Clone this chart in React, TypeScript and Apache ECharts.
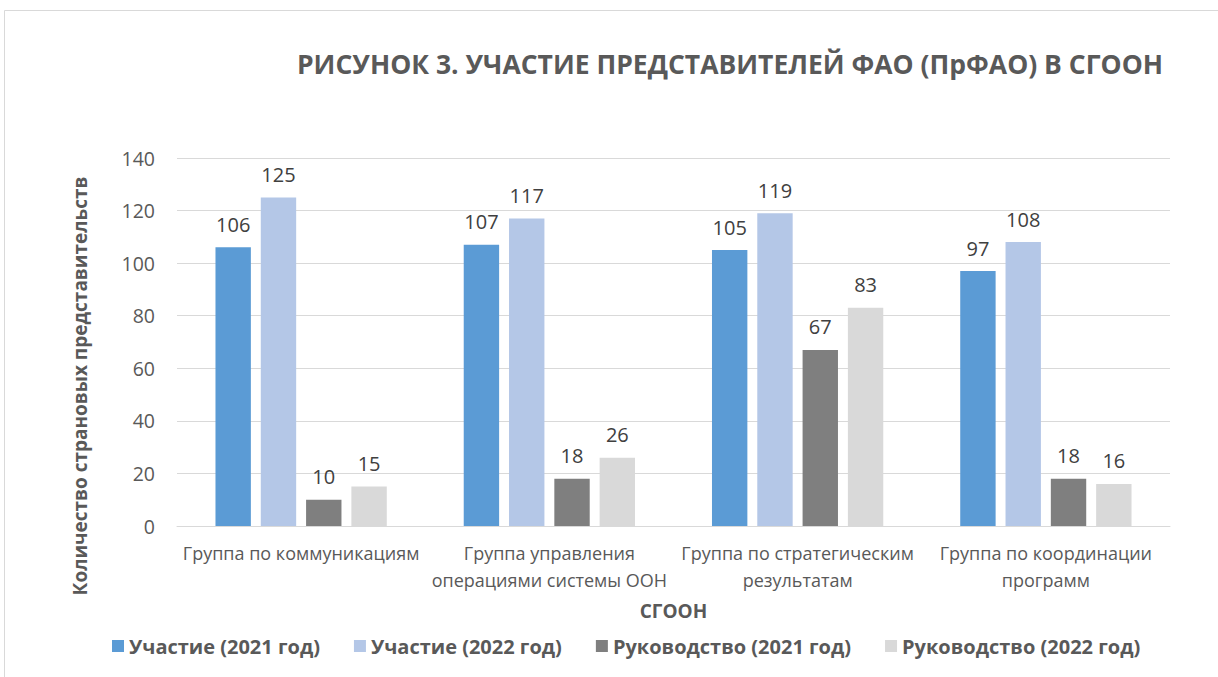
import React, { useEffect, useRef } from "react";
import * as echarts from "echarts";

const categories = [
  "Группа по коммуникациям",
  "Группа управления\nоперациями системы ООН",
  "Группа по стратегическим\nрезультатам",
  "Группа по координации\nпрограмм",
];
const seriesNames = [
  "Участие (2021 год)",
  "Участие (2022 год)",
  "Руководство (2021 год)",
  "Руководство (2022 год)",
];
const participation2021 = [106, 107, 105, 97];
const participation2022 = [125, 117, 119, 108];
const leadership2021 = [10, 18, 67, 18];
const leadership2022 = [15, 26, 83, 16];
const colors = ["#5B9BD5", "#B4C7E7", "#7F7F7F", "#D9D9D9"];
const yTicks = { min: 0, max: 140, interval: 20 };
const yAxisTitle = "Количество страновых представительств";

const FONT = "'Open Sans', 'Noto Sans', sans-serif";

export default function App() {
  const ref = useRef<HTMLDivElement>(null);
  useEffect(() => {
    document.body.style.margin = "0";
    const chart = echarts.init(ref.current!, undefined, { renderer: "svg" });
    const values = [participation2021, participation2022, leadership2021, leadership2022];
    chart.setOption({
      animation: false,
      backgroundColor: "#ffffff",
      textStyle: { fontFamily: FONT },
      title: {
        text: "РИСУНОК 3. УЧАСТИЕ ПРЕДСТАВИТЕЛЕЙ ФАО (ПрФАО) В СГООН",
        right: 50,
        top: 45,
        textStyle: { fontFamily: FONT, fontSize: 26.5, fontWeight: "bold", color: "#595959" },
      },
      graphic: [
        {
          type: "rect",
          shape: { x: 4.5, y: 10.5, width: 1400, height: 800 },
          style: { fill: "none", stroke: "#D9D9D9", lineWidth: 1 },
          silent: true,
        },
        {
          type: "text",
          x: 80,
          y: 386,
          rotation: Math.PI / 2,
          silent: true,
          style: {
            text: yAxisTitle,
            fontFamily: FONT,
            fontSize: 19,
            fontWeight: "bold",
            fill: "#595959",
            align: "center",
            verticalAlign: "middle",
          },
        },
      ],
      legend: {
        bottom: 16,
        left: 107,
        itemWidth: 12,
        itemHeight: 12,
        itemGap: 34,
        icon: "rect",
        textStyle: { fontFamily: FONT, fontSize: 20, fontWeight: "bold", color: "#595959" },
        data: seriesNames,
      },
      grid: { left: 177, right: 48, top: 158, bottom: 151, containLabel: false },
      xAxis: {
        type: "category",
        data: categories,
        name: "СГООН",
        nameLocation: "middle",
        nameGap: 75,
        nameTextStyle: { fontFamily: FONT, fontSize: 19, fontWeight: "bold", color: "#595959" },
        axisLine: { lineStyle: { color: "#D9D9D9", width: 1 } },
        axisTick: { show: false },
        axisLabel: {
          interval: 0,
          margin: 13,
          fontFamily: FONT,
          fontSize: 18,
          lineHeight: 27,
          color: "#595959",
        },
      },
      yAxis: {
        type: "value",
        min: yTicks.min,
        max: yTicks.max,
        interval: yTicks.interval,
        axisLine: { show: false },
        axisTick: { show: false },
        axisLabel: { margin: 22, fontFamily: FONT, fontSize: 19.5, color: "#595959" },
        splitLine: { lineStyle: { color: "#D9D9D9", width: 1 } },
      },
      series: seriesNames.map((name, i) => ({
        name,
        type: "bar",
        data: values[i],
        barGap: "28%",
        barCategoryGap: "31%",
        itemStyle: { color: colors[i] },
        label: {
          show: true,
          position: "top",
          distance: 13,
          fontFamily: FONT,
          fontSize: 20,
          color: "#404040",
        },
      })),
    });
    return () => chart.dispose();
  }, []);
  return <div ref={ref} style={{ width: 1218, height: 677 }} />;
}
